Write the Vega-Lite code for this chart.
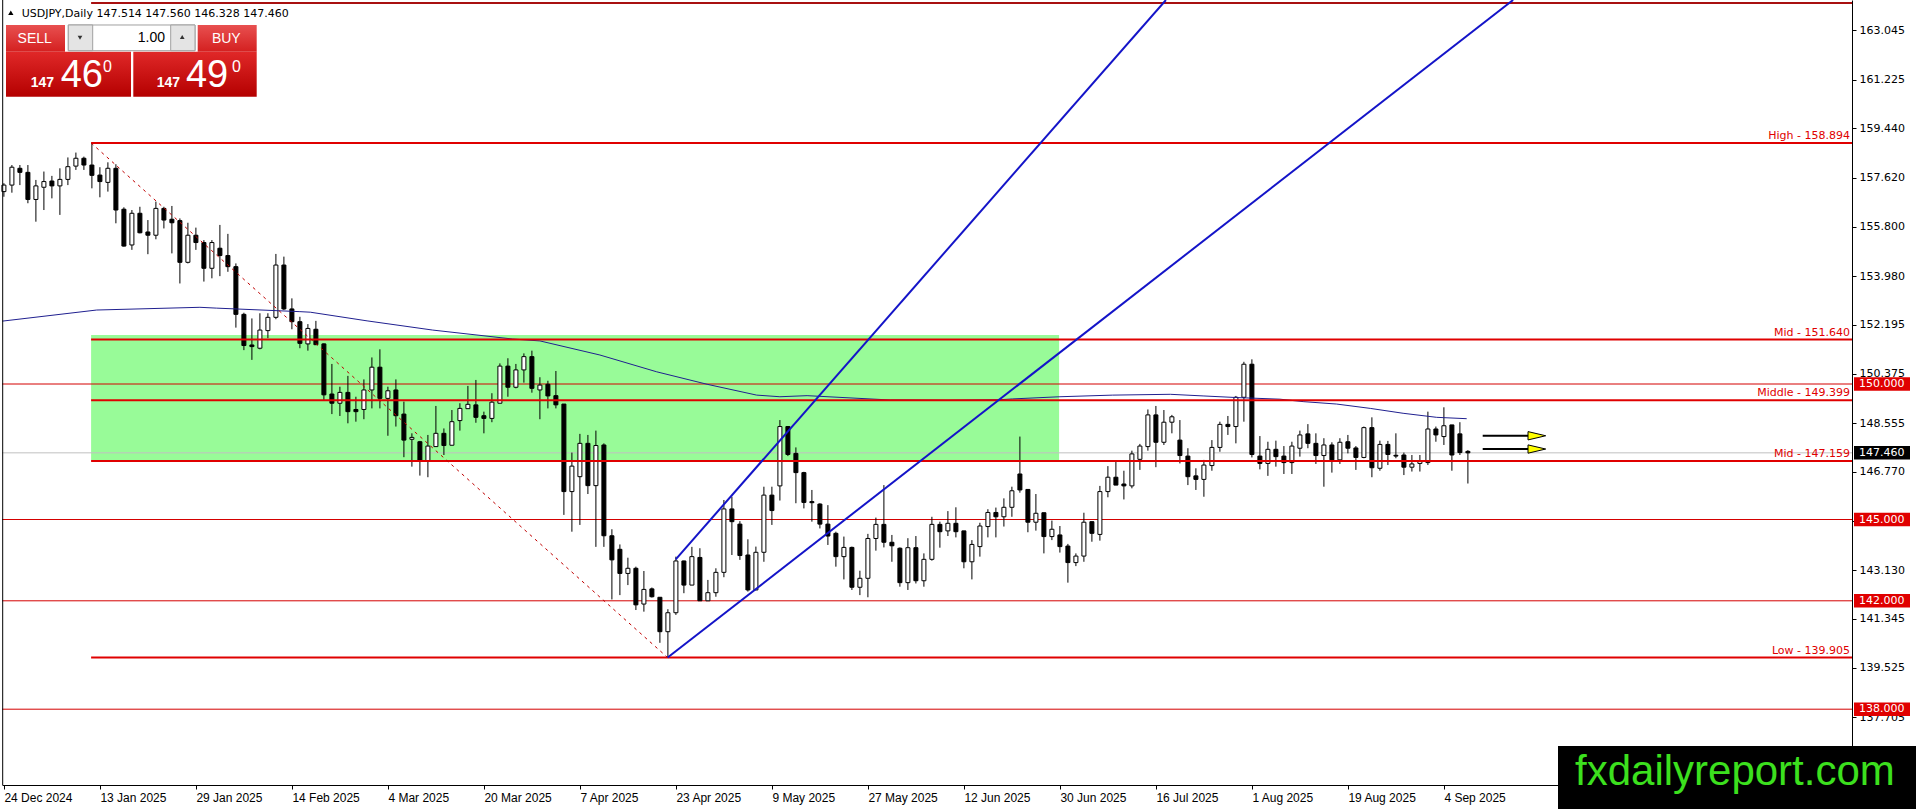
{
  "$schema": "https://vega.github.io/schema/vega-lite/v6.json",
  "width": 1850,
  "height": 785,
  "autosize": {"type": "none"},
  "padding": {"left": 2, "top": 0, "right": 64, "bottom": 24},
  "background": "white",
  "config": {"view": {"stroke": null}, "axis": {"grid": false}, "scale": {"continuousPadding": 0}},
  "resolve": {"axis": {"x": "independent", "y": "independent"}},
  "datasets": {
    "candles": [
      {"i":0,"o":157.10,"h":157.41,"l":156.91,"c":157.34},
      {"i":1,"o":157.34,"h":158.08,"l":157.06,"c":158.00},
      {"i":2,"o":157.96,"h":158.08,"l":157.34,"c":157.81},
      {"i":3,"o":157.81,"h":158.08,"l":156.67,"c":156.81},
      {"i":4,"o":156.81,"h":157.53,"l":155.99,"c":157.31},
      {"i":5,"o":157.26,"h":157.84,"l":156.42,"c":157.47},
      {"i":6,"o":157.49,"h":157.68,"l":156.85,"c":157.31},
      {"i":7,"o":157.31,"h":157.96,"l":156.24,"c":157.55},
      {"i":8,"o":157.55,"h":158.36,"l":157.34,"c":158.02},
      {"i":9,"o":158.04,"h":158.54,"l":157.90,"c":158.33},
      {"i":10,"o":158.33,"h":158.39,"l":157.90,"c":158.08},
      {"i":11,"o":158.08,"h":158.89,"l":157.22,"c":157.70},
      {"i":12,"o":157.71,"h":158.00,"l":156.89,"c":157.47},
      {"i":13,"o":157.44,"h":158.18,"l":157.10,"c":157.96},
      {"i":14,"o":157.96,"h":158.11,"l":155.93,"c":156.42},
      {"i":15,"o":156.45,"h":156.52,"l":155.07,"c":155.09},
      {"i":16,"o":155.13,"h":156.42,"l":154.95,"c":156.30},
      {"i":17,"o":156.30,"h":156.54,"l":155.56,"c":155.58},
      {"i":18,"o":155.61,"h":156.05,"l":154.79,"c":155.49},
      {"i":19,"o":155.49,"h":156.73,"l":155.34,"c":156.48},
      {"i":20,"o":156.48,"h":156.54,"l":155.74,"c":156.05},
      {"i":21,"o":156.08,"h":156.57,"l":154.82,"c":155.95},
      {"i":22,"o":156.03,"h":156.11,"l":153.71,"c":154.49},
      {"i":23,"o":154.49,"h":155.95,"l":154.45,"c":155.49},
      {"i":24,"o":155.49,"h":155.77,"l":154.95,"c":155.22},
      {"i":25,"o":155.22,"h":155.31,"l":153.78,"c":154.27},
      {"i":26,"o":154.27,"h":155.31,"l":153.90,"c":155.22},
      {"i":27,"o":155.01,"h":155.87,"l":153.98,"c":154.74},
      {"i":28,"o":154.74,"h":155.54,"l":154.14,"c":154.33},
      {"i":29,"o":154.33,"h":154.45,"l":152.08,"c":152.57},
      {"i":30,"o":152.57,"h":152.63,"l":151.25,"c":151.42},
      {"i":31,"o":151.44,"h":152.42,"l":150.89,"c":151.38},
      {"i":32,"o":151.32,"h":152.61,"l":151.28,"c":151.99},
      {"i":33,"o":151.97,"h":152.61,"l":151.69,"c":152.46},
      {"i":34,"o":152.46,"h":154.80,"l":152.39,"c":154.39},
      {"i":35,"o":154.39,"h":154.70,"l":152.73,"c":152.77},
      {"i":36,"o":152.77,"h":153.16,"l":152.02,"c":152.30},
      {"i":37,"o":152.30,"h":152.48,"l":151.32,"c":151.50},
      {"i":38,"o":151.48,"h":152.21,"l":151.23,"c":152.05},
      {"i":39,"o":152.02,"h":152.33,"l":151.44,"c":151.45},
      {"i":40,"o":151.48,"h":151.50,"l":149.41,"c":149.60},
      {"i":41,"o":149.63,"h":150.74,"l":148.89,"c":149.29},
      {"i":42,"o":149.29,"h":149.90,"l":148.82,"c":149.69},
      {"i":43,"o":149.69,"h":150.30,"l":148.55,"c":148.98},
      {"i":44,"o":149.06,"h":149.53,"l":148.61,"c":148.98},
      {"i":45,"o":149.06,"h":150.17,"l":148.70,"c":149.78},
      {"i":46,"o":149.78,"h":150.98,"l":149.10,"c":150.62},
      {"i":47,"o":150.62,"h":151.28,"l":149.10,"c":149.47},
      {"i":48,"o":149.47,"h":149.90,"l":148.09,"c":149.75},
      {"i":49,"o":149.78,"h":150.17,"l":148.43,"c":148.83},
      {"i":50,"o":148.89,"h":149.35,"l":147.30,"c":147.93},
      {"i":51,"o":147.96,"h":148.18,"l":146.95,"c":148.03},
      {"i":52,"o":147.87,"h":147.90,"l":146.62,"c":147.17},
      {"i":53,"o":147.17,"h":148.12,"l":146.56,"c":147.71},
      {"i":54,"o":147.69,"h":149.19,"l":147.69,"c":148.18},
      {"i":55,"o":148.18,"h":148.36,"l":147.38,"c":147.73},
      {"i":56,"o":147.74,"h":149.04,"l":147.74,"c":148.61},
      {"i":57,"o":148.65,"h":149.29,"l":148.28,"c":149.10},
      {"i":58,"o":149.09,"h":149.93,"l":149.09,"c":149.25},
      {"i":59,"o":149.23,"h":150.15,"l":148.57,"c":148.77},
      {"i":60,"o":148.83,"h":148.98,"l":148.18,"c":148.73},
      {"i":61,"o":148.73,"h":149.66,"l":148.59,"c":149.33},
      {"i":62,"o":149.29,"h":150.76,"l":149.29,"c":150.66},
      {"i":63,"o":150.66,"h":150.95,"l":149.53,"c":149.88},
      {"i":64,"o":149.88,"h":150.74,"l":149.84,"c":150.52},
      {"i":65,"o":150.52,"h":151.13,"l":150.05,"c":151.01},
      {"i":66,"o":151.01,"h":151.23,"l":149.68,"c":149.84},
      {"i":67,"o":149.78,"h":150.25,"l":148.70,"c":149.96},
      {"i":68,"o":149.99,"h":150.12,"l":149.10,"c":149.56},
      {"i":69,"o":149.57,"h":150.48,"l":149.10,"c":149.23},
      {"i":70,"o":149.26,"h":149.26,"l":145.17,"c":146.03},
      {"i":71,"o":146.03,"h":147.47,"l":144.55,"c":146.97},
      {"i":72,"o":146.58,"h":148.16,"l":144.80,"c":147.81},
      {"i":73,"o":147.81,"h":148.12,"l":145.94,"c":146.25},
      {"i":74,"o":146.25,"h":148.28,"l":143.99,"c":147.73},
      {"i":75,"o":147.75,"h":147.81,"l":143.99,"c":144.40},
      {"i":76,"o":144.40,"h":144.64,"l":142.05,"c":143.51},
      {"i":77,"o":143.90,"h":144.08,"l":142.21,"c":143.01},
      {"i":78,"o":143.01,"h":143.59,"l":142.58,"c":143.20},
      {"i":79,"o":143.20,"h":143.26,"l":141.66,"c":141.85},
      {"i":80,"o":141.88,"h":143.10,"l":141.60,"c":142.42},
      {"i":81,"o":142.44,"h":142.49,"l":142.12,"c":142.15},
      {"i":82,"o":142.13,"h":142.13,"l":140.45,"c":140.86},
      {"i":83,"o":140.86,"h":141.69,"l":139.90,"c":141.56},
      {"i":84,"o":141.56,"h":143.63,"l":141.48,"c":143.47},
      {"i":85,"o":143.47,"h":143.48,"l":142.28,"c":142.58},
      {"i":86,"o":142.58,"h":143.99,"l":142.58,"c":143.63},
      {"i":87,"o":143.60,"h":143.94,"l":142.00,"c":142.00},
      {"i":88,"o":142.00,"h":142.77,"l":142.00,"c":142.30},
      {"i":89,"o":142.30,"h":143.20,"l":142.15,"c":143.05},
      {"i":90,"o":143.05,"h":145.72,"l":142.87,"c":145.39},
      {"i":91,"o":145.39,"h":145.84,"l":143.69,"c":144.92},
      {"i":92,"o":144.83,"h":144.94,"l":143.51,"c":143.67},
      {"i":93,"o":143.69,"h":144.27,"l":142.34,"c":142.40},
      {"i":94,"o":142.40,"h":144.00,"l":142.40,"c":143.79},
      {"i":95,"o":143.79,"h":146.21,"l":143.44,"c":145.90},
      {"i":96,"o":145.90,"h":146.21,"l":144.80,"c":145.33},
      {"i":97,"o":146.24,"h":148.67,"l":145.70,"c":148.43},
      {"i":98,"o":148.43,"h":148.45,"l":147.34,"c":147.40},
      {"i":99,"o":147.44,"h":147.66,"l":145.60,"c":146.73},
      {"i":100,"o":146.73,"h":146.76,"l":145.41,"c":145.63},
      {"i":101,"o":145.66,"h":146.09,"l":144.92,"c":145.62},
      {"i":102,"o":145.57,"h":145.60,"l":144.67,"c":144.83},
      {"i":103,"o":144.83,"h":145.53,"l":144.06,"c":144.39},
      {"i":104,"o":144.49,"h":144.55,"l":143.26,"c":143.63},
      {"i":105,"o":143.63,"h":144.37,"l":142.79,"c":143.97},
      {"i":106,"o":143.97,"h":144.00,"l":142.40,"c":142.50},
      {"i":107,"o":142.50,"h":143.11,"l":142.21,"c":142.83},
      {"i":108,"o":142.83,"h":144.47,"l":142.13,"c":144.30},
      {"i":109,"o":144.30,"h":145.07,"l":143.85,"c":144.82},
      {"i":110,"o":144.82,"h":146.27,"l":143.97,"c":144.16},
      {"i":111,"o":144.16,"h":144.43,"l":143.44,"c":144.03},
      {"i":112,"o":143.94,"h":143.97,"l":142.52,"c":142.67},
      {"i":113,"o":142.67,"h":144.31,"l":142.40,"c":143.96},
      {"i":114,"o":143.96,"h":144.39,"l":142.64,"c":142.74},
      {"i":115,"o":142.74,"h":143.75,"l":142.52,"c":143.53},
      {"i":116,"o":143.53,"h":145.10,"l":143.48,"c":144.82},
      {"i":117,"o":144.82,"h":144.92,"l":143.96,"c":144.55},
      {"i":118,"o":144.58,"h":145.31,"l":144.39,"c":144.86},
      {"i":119,"o":144.86,"h":145.45,"l":144.34,"c":144.55},
      {"i":120,"o":144.58,"h":144.58,"l":143.20,"c":143.44},
      {"i":121,"o":143.44,"h":144.24,"l":142.79,"c":144.08},
      {"i":122,"o":144.00,"h":144.88,"l":143.63,"c":144.76},
      {"i":123,"o":144.74,"h":145.38,"l":144.34,"c":145.26},
      {"i":124,"o":145.26,"h":145.44,"l":144.34,"c":145.10},
      {"i":125,"o":145.10,"h":145.78,"l":144.74,"c":145.45},
      {"i":126,"o":145.45,"h":146.21,"l":145.10,"c":146.06},
      {"i":127,"o":146.68,"h":148.06,"l":145.99,"c":146.09},
      {"i":128,"o":146.11,"h":146.11,"l":144.53,"c":144.90},
      {"i":129,"o":144.90,"h":145.94,"l":144.59,"c":145.23},
      {"i":130,"o":145.25,"h":145.25,"l":143.75,"c":144.37},
      {"i":131,"o":144.37,"h":144.96,"l":144.24,"c":144.64},
      {"i":132,"o":144.43,"h":144.76,"l":143.78,"c":144.00},
      {"i":133,"o":144.02,"h":144.10,"l":142.67,"c":143.41},
      {"i":134,"o":143.41,"h":143.75,"l":143.28,"c":143.65},
      {"i":135,"o":143.65,"h":145.25,"l":143.44,"c":144.90},
      {"i":136,"o":144.92,"h":144.92,"l":144.18,"c":144.49},
      {"i":137,"o":144.45,"h":146.24,"l":144.22,"c":146.03},
      {"i":138,"o":146.03,"h":146.97,"l":145.82,"c":146.56},
      {"i":139,"o":146.56,"h":147.13,"l":146.27,"c":146.27},
      {"i":140,"o":146.31,"h":146.80,"l":145.74,"c":146.24},
      {"i":141,"o":146.24,"h":147.54,"l":146.15,"c":147.42},
      {"i":142,"o":147.22,"h":147.79,"l":146.83,"c":147.71},
      {"i":143,"o":147.69,"h":149.06,"l":147.54,"c":148.86},
      {"i":144,"o":148.86,"h":149.19,"l":146.93,"c":147.85},
      {"i":145,"o":147.85,"h":149.04,"l":147.75,"c":148.59},
      {"i":146,"o":148.59,"h":148.86,"l":148.18,"c":148.79},
      {"i":147,"o":147.93,"h":148.67,"l":147.07,"c":147.36},
      {"i":148,"o":147.34,"h":147.63,"l":146.27,"c":146.58},
      {"i":149,"o":146.61,"h":146.89,"l":146.09,"c":146.48},
      {"i":150,"o":146.48,"h":147.20,"l":145.84,"c":147.01},
      {"i":151,"o":146.99,"h":147.93,"l":146.80,"c":147.66},
      {"i":152,"o":147.66,"h":148.61,"l":147.50,"c":148.51},
      {"i":153,"o":148.51,"h":148.82,"l":148.12,"c":148.43},
      {"i":154,"o":148.43,"h":149.56,"l":147.81,"c":149.51},
      {"i":155,"o":149.51,"h":150.82,"l":148.61,"c":150.73},
      {"i":156,"o":150.73,"h":150.91,"l":147.29,"c":147.40},
      {"i":157,"o":147.34,"h":148.08,"l":146.85,"c":147.07},
      {"i":158,"o":147.07,"h":147.87,"l":146.61,"c":147.59},
      {"i":159,"o":147.59,"h":147.91,"l":146.95,"c":147.32},
      {"i":160,"o":147.34,"h":147.71,"l":146.68,"c":147.10},
      {"i":161,"o":147.10,"h":147.87,"l":146.68,"c":147.71},
      {"i":162,"o":147.63,"h":148.28,"l":147.32,"c":148.12},
      {"i":163,"o":148.16,"h":148.52,"l":147.63,"c":147.81},
      {"i":164,"o":147.81,"h":148.18,"l":147.05,"c":147.36},
      {"i":165,"o":147.36,"h":148.00,"l":146.21,"c":147.75},
      {"i":166,"o":147.75,"h":147.85,"l":146.73,"c":147.20},
      {"i":167,"o":147.20,"h":148.00,"l":147.05,"c":147.85},
      {"i":168,"o":147.87,"h":148.12,"l":147.44,"c":147.63},
      {"i":169,"o":147.64,"h":147.71,"l":146.83,"c":147.29},
      {"i":170,"o":147.29,"h":148.43,"l":147.26,"c":148.39},
      {"i":171,"o":148.39,"h":148.77,"l":146.56,"c":146.91},
      {"i":172,"o":146.89,"h":147.91,"l":146.80,"c":147.77},
      {"i":173,"o":147.77,"h":147.90,"l":147.01,"c":147.40},
      {"i":174,"o":147.37,"h":148.18,"l":147.26,"c":147.34},
      {"i":175,"o":147.38,"h":147.47,"l":146.64,"c":146.93},
      {"i":176,"o":146.93,"h":147.38,"l":146.77,"c":147.05},
      {"i":177,"o":147.07,"h":147.38,"l":146.77,"c":147.16},
      {"i":178,"o":147.10,"h":148.98,"l":147.01,"c":148.34},
      {"i":179,"o":148.34,"h":148.43,"l":147.87,"c":148.12},
      {"i":180,"o":148.06,"h":149.14,"l":147.75,"c":148.46},
      {"i":181,"o":148.49,"h":148.49,"l":146.80,"c":147.38},
      {"i":182,"o":148.16,"h":148.59,"l":147.38,"c":147.47},
      {"i":183,"o":147.514,"h":147.56,"l":146.328,"c":147.46}
    ],
    "ma": [
      {"i":-0.2,"v":152.32},{"i":11.6,"v":152.73},{"i":24.5,"v":152.83},{"i":26.6,"v":152.80},
      {"i":37,"v":152.67},{"i":38.3,"v":152.65},{"i":45.4,"v":152.33},{"i":53.6,"v":151.99},
      {"i":63.6,"v":151.66},{"i":67,"v":151.59},{"i":74.5,"v":151.07},{"i":81.6,"v":150.45},
      {"i":87.9,"v":149.99},{"i":94.1,"v":149.59},{"i":97,"v":149.53},{"i":100.4,"v":149.57},
      {"i":110.8,"v":149.41},{"i":112.4,"v":149.41},{"i":118,"v":149.40},{"i":124.5,"v":149.42},
      {"i":126.1,"v":149.45},{"i":132,"v":149.53},{"i":138.6,"v":149.59},{"i":145.8,"v":149.62},
      {"i":149.9,"v":149.56},{"i":154.1,"v":149.50},{"i":159.5,"v":149.44},{"i":162.4,"v":149.35},
      {"i":166.6,"v":149.26},{"i":170.8,"v":149.10},{"i":174.9,"v":148.92},{"i":179.1,"v":148.77},
      {"i":182.85,"v":148.72}
    ],
    "zones": [{"from":10.9,"to":131.9,"lo":147.159,"hi":151.81}],
    "current": [{"p":147.46}],
    "thin": [{"p":150.0},{"p":145.0},{"p":142.0},{"p":138.0}],
    "levels": [
      {"p":164.06,"from":10.9,"label":""},
      {"p":158.894,"from":10.9,"label":"High - 158.894"},
      {"p":151.64,"from":10.9,"label":"Mid - 151.640"},
      {"p":149.399,"from":10.9,"label":"Middle - 149.399"},
      {"p":147.159,"from":10.9,"label":"Mid - 147.159"},
      {"p":139.905,"from":10.9,"label":"Low - 139.905"}
    ],
    "diag": [{"i":10.9,"p":158.894},{"i":82.97,"p":139.905}],
    "trend": [
      {"line":"t1","i":83.98,"p":143.53},{"line":"t1","i":145.25,"p":164.17},
      {"line":"t2","i":82.97,"p":139.905},{"line":"t2","i":188.65,"p":164.17}
    ],
    "arrows": [
      {"a":"a1","from":184.85,"to":190.55,"tip":191.62,"p":148.09},
      {"a":"a2","from":184.85,"to":190.55,"tip":191.62,"p":147.60}
    ],
    "pricebox": [
      {"p":150.0,"label":"150.000","kind":"level"},
      {"p":147.46,"label":"147.460","kind":"bid"},
      {"p":145.0,"label":"145.000","kind":"level"},
      {"p":142.0,"label":"142.000","kind":"level"},
      {"p":138.0,"label":"138.000","kind":"level"}
    ]
  },
  "layer": [
    {
      "data": {"name": "zones"},
      "mark": {"type": "rect", "fill": "#98fb98"},
      "encoding": {
        "x": {"field": "from", "type": "quantitative", "scale": {"domain": [-0.2375, 231.0125], "nice": false, "zero": false, "padding": 0}, "axis": null},
        "x2": {"field": "to"},
        "y": {"field": "lo", "type": "quantitative", "scale": {"domain": [135.203, 164.17], "nice": false, "zero": false}, "axis": null},
        "y2": {"field": "hi"}
      }
    },
    {
      "data": {"name": "current"},
      "mark": {"type": "rule", "color": "#c0c0c0", "strokeWidth": 1},
      "encoding": {
        "y": {"field": "p", "type": "quantitative", "scale": {"domain": [135.203, 164.17], "nice": false, "zero": false}, "axis": null}
      }
    },
    {
      "data": {"name": "thin"},
      "mark": {"type": "rule", "color": "#d40000", "strokeWidth": 1},
      "encoding": {
        "y": {"field": "p", "type": "quantitative", "scale": {"domain": [135.203, 164.17], "nice": false, "zero": false}, "axis": null}
      }
    },
    {
      "data": {"name": "candles"},
      "mark": {"type": "rule", "color": "black", "strokeWidth": 1},
      "encoding": {
        "x": {"field": "i", "type": "quantitative", "scale": {"domain": [-0.2375, 231.0125], "nice": false, "zero": false, "padding": 0},
          "axis": {"orient": "bottom", "title": null, "values": [0,12,24,36,48,60,72,84,96,108,120,132,144,156,168,180],
            "labelExpr": "['24 Dec 2024','13 Jan 2025','29 Jan 2025','14 Feb 2025','4 Mar 2025','20 Mar 2025','7 Apr 2025','23 Apr 2025','9 May 2025','27 May 2025','12 Jun 2025','30 Jun 2025','16 Jul 2025','1 Aug 2025','19 Aug 2025','4 Sep 2025'][round(datum.value/12)]",
            "labelFont": "Liberation Sans", "labelFontSize": 12, "labelColor": "black", "labelAlign": "left", "labelBaseline": "top",
            "labelPadding": 3, "tickSize": 4, "tickColor": "black", "domainColor": "black", "labelOverlap": false, "labelFlush": false, "labelBound": false, "grid": false}},
        "y": {"field": "l", "type": "quantitative", "scale": {"domain": [135.203, 164.17], "nice": false, "zero": false},
          "axis": {"orient": "right", "title": null, "values": [137.705,139.525,141.345,143.13,144.95,146.77,148.555,150.375,152.195,153.98,155.8,157.62,159.44,161.225,163.045],
            "format": ".3f", "labelFont": "DejaVu Sans", "labelFontSize": 11, "labelColor": "black", "labelPadding": 3, "tickSize": 4,
            "tickColor": "black", "domainColor": "black", "labelOverlap": false, "labelFlush": false, "labelBound": false, "grid": false}},
        "y2": {"field": "h"}
      }
    },
    {
      "data": {"name": "candles"},
      "mark": {"type": "bar", "width": 4, "stroke": "black", "strokeWidth": 1},
      "encoding": {
        "x": {"field": "i", "type": "quantitative", "scale": {"domain": [-0.2375, 231.0125], "nice": false, "zero": false, "padding": 0}, "axis": null},
        "y": {"field": "o", "type": "quantitative", "scale": {"domain": [135.203, 164.17], "nice": false, "zero": false}, "axis": null},
        "y2": {"field": "c"},
        "fill": {"condition": {"test": "datum.c >= datum.o", "value": "white"}, "value": "black"}
      }
    },
    {
      "data": {"name": "ma"},
      "mark": {"type": "line", "color": "#202090", "strokeWidth": 1},
      "encoding": {
        "x": {"field": "i", "type": "quantitative", "scale": {"domain": [-0.2375, 231.0125], "nice": false, "zero": false, "padding": 0}, "axis": null},
        "y": {"field": "v", "type": "quantitative", "scale": {"domain": [135.203, 164.17], "nice": false, "zero": false}, "axis": null}
      }
    },
    {
      "data": {"name": "levels"},
      "mark": {"type": "rule", "strokeWidth": 2},
      "encoding": {
        "x": {"field": "from", "type": "quantitative", "scale": {"domain": [-0.2375, 231.0125], "nice": false, "zero": false, "padding": 0}, "axis": null},
        "x2": {"datum": 231.0125},
        "y": {"field": "p", "type": "quantitative", "scale": {"domain": [135.203, 164.17], "nice": false, "zero": false}, "axis": null},
        "color": {"condition": {"test": "datum.label == ''", "value": "#a81010"}, "value": "#e00000"}
      }
    },
    {
      "data": {"name": "diag"},
      "mark": {"type": "line", "color": "#c00000", "strokeWidth": 1, "strokeDash": [3, 4]},
      "encoding": {
        "x": {"field": "i", "type": "quantitative", "scale": {"domain": [-0.2375, 231.0125], "nice": false, "zero": false, "padding": 0}, "axis": null},
        "y": {"field": "p", "type": "quantitative", "scale": {"domain": [135.203, 164.17], "nice": false, "zero": false}, "axis": null}
      }
    },
    {
      "data": {"name": "trend"},
      "mark": {"type": "line", "color": "#1414c8", "strokeWidth": 2},
      "encoding": {
        "x": {"field": "i", "type": "quantitative", "scale": {"domain": [-0.2375, 231.0125], "nice": false, "zero": false, "padding": 0}, "axis": null},
        "y": {"field": "p", "type": "quantitative", "scale": {"domain": [135.203, 164.17], "nice": false, "zero": false}, "axis": null},
        "detail": {"field": "line"}
      }
    },
    {
      "data": {"name": "levels"},
      "transform": [{"filter": "datum.label != ''"}],
      "mark": {"type": "text", "align": "right", "baseline": "bottom", "dx": -2, "dy": -2, "font": "DejaVu Sans", "fontSize": 11, "color": "#e00000"},
      "encoding": {
        "x": {"datum": 231.0125, "type": "quantitative", "scale": {"domain": [-0.2375, 231.0125], "nice": false, "zero": false, "padding": 0}, "axis": null},
        "y": {"field": "p", "type": "quantitative", "scale": {"domain": [135.203, 164.17], "nice": false, "zero": false}, "axis": null},
        "text": {"field": "label"}
      }
    },
    {
      "data": {"name": "arrows"},
      "mark": {"type": "rule", "color": "black", "strokeWidth": 2},
      "encoding": {
        "x": {"field": "from", "type": "quantitative", "scale": {"domain": [-0.2375, 231.0125], "nice": false, "zero": false, "padding": 0}, "axis": null},
        "x2": {"field": "to"},
        "y": {"field": "p", "type": "quantitative", "scale": {"domain": [135.203, 164.17], "nice": false, "zero": false}, "axis": null}
      }
    },
    {
      "data": {"name": "arrows"},
      "mark": {"type": "point", "shape": "M-1,-0.47L1,0L-1,0.47Z", "size": 313, "filled": true, "fill": "#ffff00", "stroke": "black", "strokeWidth": 1, "opacity": 1},
      "encoding": {
        "x": {"field": "tip", "type": "quantitative", "scale": {"domain": [-0.2375, 231.0125], "nice": false, "zero": false, "padding": 0}, "axis": null},
        "y": {"field": "p", "type": "quantitative", "scale": {"domain": [135.203, 164.17], "nice": false, "zero": false}, "axis": null}
      }
    },
    {
      "data": {"name": "pricebox"},
      "mark": {"type": "point", "shape": "M-1,-0.24L1,-0.24L1,0.24L-1,0.24Z", "size": 3136, "filled": true, "strokeWidth": 0, "opacity": 1},
      "encoding": {
        "x": {"datum": 234.7625, "type": "quantitative", "scale": {"domain": [-0.2375, 231.0125], "nice": false, "zero": false, "padding": 0}, "axis": null},
        "y": {"field": "p", "type": "quantitative", "scale": {"domain": [135.203, 164.17], "nice": false, "zero": false}, "axis": null},
        "fill": {"condition": {"test": "datum.kind == 'bid'", "value": "black"}, "value": "#e00000"}
      }
    },
    {
      "data": {"name": "pricebox"},
      "mark": {"type": "text", "align": "left", "baseline": "middle", "font": "DejaVu Sans", "fontSize": 11, "color": "white"},
      "encoding": {
        "x": {"datum": 231.8875, "type": "quantitative", "scale": {"domain": [-0.2375, 231.0125], "nice": false, "zero": false, "padding": 0}, "axis": null},
        "y": {"field": "p", "type": "quantitative", "scale": {"domain": [135.203, 164.17], "nice": false, "zero": false}, "axis": null},
        "text": {"field": "label"}
      }
    },
    {
      "data": {"values": [{}]},
      "mark": {"type": "rule", "color": "black", "strokeWidth": 1},
      "encoding": {
        "x": {"datum": -0.15, "type": "quantitative", "scale": {"domain": [-0.2375, 231.0125], "nice": false, "zero": false, "padding": 0}, "axis": null}
      }
    },
    {
      "data": {"values": [{}]},
      "mark": {"type": "rect", "fill": {"gradient": "linear", "x1": 0, "y1": 0, "x2": 0, "y2": 1, "stops": [{"offset": 0, "color": "#e85050"}, {"offset": 1, "color": "#d42020"}]}},
      "encoding": {
        "x": {"datum": 0.2625, "type": "quantitative", "scale": {"domain": [-0.2375, 231.0125], "nice": false, "zero": false, "padding": 0}, "axis": null},
        "x2": {"datum": 7.6375},
        "y": {"datum": 163.2475, "type": "quantitative", "scale": {"domain": [135.203, 164.17], "nice": false, "zero": false}, "axis": null},
        "y2": {"datum": 162.2623}
      }
    },
    {
      "data": {"values": [{}]},
      "mark": {"type": "rect", "fill": {"gradient": "linear", "x1": 0, "y1": 0, "x2": 0, "y2": 1, "stops": [{"offset": 0, "color": "#e85050"}, {"offset": 1, "color": "#d42020"}]}},
      "encoding": {
        "x": {"datum": 24.225, "type": "quantitative", "scale": {"domain": [-0.2375, 231.0125], "nice": false, "zero": false, "padding": 0}, "axis": null},
        "x2": {"datum": 31.6},
        "y": {"datum": 163.2475, "type": "quantitative", "scale": {"domain": [135.203, 164.17], "nice": false, "zero": false}, "axis": null},
        "y2": {"datum": 162.2623}
      }
    },
    {
      "data": {"values": [{}]},
      "mark": {"type": "rect", "fill": {"gradient": "linear", "x1": 0, "y1": 0, "x2": 0, "y2": 1, "stops": [{"offset": 0, "color": "#e02828"}, {"offset": 1, "color": "#b40000"}]}},
      "encoding": {
        "x": {"datum": 0.2625, "type": "quantitative", "scale": {"domain": [-0.2375, 231.0125], "nice": false, "zero": false, "padding": 0}, "axis": null},
        "x2": {"datum": 15.8875},
        "y": {"datum": 162.2623, "type": "quantitative", "scale": {"domain": [135.203, 164.17], "nice": false, "zero": false}, "axis": null},
        "y2": {"datum": 160.6017}
      }
    },
    {
      "data": {"values": [{}]},
      "mark": {"type": "rect", "fill": {"gradient": "linear", "x1": 0, "y1": 0, "x2": 0, "y2": 1, "stops": [{"offset": 0, "color": "#e02828"}, {"offset": 1, "color": "#b40000"}]}},
      "encoding": {
        "x": {"datum": 16.175, "type": "quantitative", "scale": {"domain": [-0.2375, 231.0125], "nice": false, "zero": false, "padding": 0}, "axis": null},
        "x2": {"datum": 31.6},
        "y": {"datum": 162.2623, "type": "quantitative", "scale": {"domain": [135.203, 164.17], "nice": false, "zero": false}, "axis": null},
        "y2": {"datum": 160.6017}
      }
    },
    {
      "data": {"values": [{}]},
      "mark": {"type": "rect", "fill": "white", "stroke": "#a0a0a0", "strokeWidth": 1},
      "encoding": {
        "x": {"datum": 8.05, "type": "quantitative", "scale": {"domain": [-0.2375, 231.0125], "nice": false, "zero": false, "padding": 0}, "axis": null},
        "x2": {"datum": 23.8875},
        "y": {"datum": 163.2475, "type": "quantitative", "scale": {"domain": [135.203, 164.17], "nice": false, "zero": false}, "axis": null},
        "y2": {"datum": 162.2993}
      }
    },
    {
      "data": {"values": [{}]},
      "mark": {"type": "rect", "fill": "#e4e4e4", "stroke": "#a0a0a0", "strokeWidth": 1},
      "encoding": {
        "x": {"datum": 8.05, "type": "quantitative", "scale": {"domain": [-0.2375, 231.0125], "nice": false, "zero": false, "padding": 0}, "axis": null},
        "x2": {"datum": 11.1},
        "y": {"datum": 163.2475, "type": "quantitative", "scale": {"domain": [135.203, 164.17], "nice": false, "zero": false}, "axis": null},
        "y2": {"datum": 162.2993}
      }
    },
    {
      "data": {"values": [{}]},
      "mark": {"type": "rect", "fill": "#e4e4e4", "stroke": "#a0a0a0", "strokeWidth": 1},
      "encoding": {
        "x": {"datum": 20.85, "type": "quantitative", "scale": {"domain": [-0.2375, 231.0125], "nice": false, "zero": false, "padding": 0}, "axis": null},
        "x2": {"datum": 23.8875},
        "y": {"datum": 163.2475, "type": "quantitative", "scale": {"domain": [135.203, 164.17], "nice": false, "zero": false}, "axis": null},
        "y2": {"datum": 162.2993}
      }
    },
    {
      "data": {"values": [{}]},
      "mark": {"type": "point", "shape": "triangle-down", "size": 22, "filled": true, "color": "#333333", "opacity": 1},
      "encoding": {
        "x": {"datum": 9.5125, "type": "quantitative", "scale": {"domain": [-0.2375, 231.0125], "nice": false, "zero": false, "padding": 0}, "axis": null},
        "y": {"datum": 162.779, "type": "quantitative", "scale": {"domain": [135.203, 164.17], "nice": false, "zero": false}, "axis": null}
      }
    },
    {
      "data": {"values": [{}]},
      "mark": {"type": "point", "shape": "triangle-up", "size": 22, "filled": true, "color": "#333333", "opacity": 1},
      "encoding": {
        "x": {"datum": 22.29, "type": "quantitative", "scale": {"domain": [-0.2375, 231.0125], "nice": false, "zero": false, "padding": 0}, "axis": null},
        "y": {"datum": 162.805, "type": "quantitative", "scale": {"domain": [135.203, 164.17], "nice": false, "zero": false}, "axis": null}
      }
    },
    {
      "data": {"values": [{"t": "SELL"}]},
      "mark": {"type": "text", "align": "center", "baseline": "middle", "font": "Liberation Sans", "fontSize": 14, "color": "white"},
      "encoding": {
        "x": {"datum": 3.85, "type": "quantitative", "scale": {"domain": [-0.2375, 231.0125], "nice": false, "zero": false, "padding": 0}, "axis": null},
        "y": {"datum": 162.738, "type": "quantitative", "scale": {"domain": [135.203, 164.17], "nice": false, "zero": false}, "axis": null},
        "text": {"field": "t"}
      }
    },
    {
      "data": {"values": [{"t": "BUY"}]},
      "mark": {"type": "text", "align": "center", "baseline": "middle", "font": "Liberation Sans", "fontSize": 14, "color": "white"},
      "encoding": {
        "x": {"datum": 27.8, "type": "quantitative", "scale": {"domain": [-0.2375, 231.0125], "nice": false, "zero": false, "padding": 0}, "axis": null},
        "y": {"datum": 162.738, "type": "quantitative", "scale": {"domain": [135.203, 164.17], "nice": false, "zero": false}, "axis": null},
        "text": {"field": "t"}
      }
    },
    {
      "data": {"values": [{"t": "1.00"}]},
      "mark": {"type": "text", "align": "right", "baseline": "middle", "font": "Liberation Sans", "fontSize": 14, "color": "black"},
      "encoding": {
        "x": {"datum": 20.1375, "type": "quantitative", "scale": {"domain": [-0.2375, 231.0125], "nice": false, "zero": false, "padding": 0}, "axis": null},
        "y": {"datum": 162.779, "type": "quantitative", "scale": {"domain": [135.203, 164.17], "nice": false, "zero": false}, "axis": null},
        "text": {"field": "t"}
      }
    },
    {
      "data": {"values": [{"t": "147"}]},
      "mark": {"type": "text", "align": "left", "baseline": "alphabetic", "font": "Liberation Sans", "fontSize": 14, "fontWeight": "bold", "color": "white"},
      "encoding": {
        "x": {"datum": 3.35, "type": "quantitative", "scale": {"domain": [-0.2375, 231.0125], "nice": false, "zero": false, "padding": 0}, "axis": null},
        "y": {"datum": 160.9485, "type": "quantitative", "scale": {"domain": [135.203, 164.17], "nice": false, "zero": false}, "axis": null},
        "text": {"field": "t"}
      }
    },
    {
      "data": {"values": [{"t": "147"}]},
      "mark": {"type": "text", "align": "left", "baseline": "alphabetic", "font": "Liberation Sans", "fontSize": 14, "fontWeight": "bold", "color": "white"},
      "encoding": {
        "x": {"datum": 19.1, "type": "quantitative", "scale": {"domain": [-0.2375, 231.0125], "nice": false, "zero": false, "padding": 0}, "axis": null},
        "y": {"datum": 160.9485, "type": "quantitative", "scale": {"domain": [135.203, 164.17], "nice": false, "zero": false}, "axis": null},
        "text": {"field": "t"}
      }
    },
    {
      "data": {"values": [{"t": "46"}]},
      "mark": {"type": "text", "align": "left", "baseline": "alphabetic", "font": "Liberation Sans", "fontSize": 38, "color": "white"},
      "encoding": {
        "x": {"datum": 7.1, "type": "quantitative", "scale": {"domain": [-0.2375, 231.0125], "nice": false, "zero": false, "padding": 0}, "axis": null},
        "y": {"datum": 160.9485, "type": "quantitative", "scale": {"domain": [135.203, 164.17], "nice": false, "zero": false}, "axis": null},
        "text": {"field": "t"}
      }
    },
    {
      "data": {"values": [{"t": "49"}]},
      "mark": {"type": "text", "align": "left", "baseline": "alphabetic", "font": "Liberation Sans", "fontSize": 38, "color": "white"},
      "encoding": {
        "x": {"datum": 22.76, "type": "quantitative", "scale": {"domain": [-0.2375, 231.0125], "nice": false, "zero": false, "padding": 0}, "axis": null},
        "y": {"datum": 160.9485, "type": "quantitative", "scale": {"domain": [135.203, 164.17], "nice": false, "zero": false}, "axis": null},
        "text": {"field": "t"}
      }
    },
    {
      "data": {"values": [{"t": "0"}]},
      "mark": {"type": "text", "align": "left", "baseline": "alphabetic", "font": "Liberation Sans", "fontSize": 16, "color": "white"},
      "encoding": {
        "x": {"datum": 12.4, "type": "quantitative", "scale": {"domain": [-0.2375, 231.0125], "nice": false, "zero": false, "padding": 0}, "axis": null},
        "y": {"datum": 161.524, "type": "quantitative", "scale": {"domain": [135.203, 164.17], "nice": false, "zero": false}, "axis": null},
        "text": {"field": "t"}
      }
    },
    {
      "data": {"values": [{"t": "0"}]},
      "mark": {"type": "text", "align": "left", "baseline": "alphabetic", "font": "Liberation Sans", "fontSize": 16, "color": "white"},
      "encoding": {
        "x": {"datum": 28.5, "type": "quantitative", "scale": {"domain": [-0.2375, 231.0125], "nice": false, "zero": false, "padding": 0}, "axis": null},
        "y": {"datum": 161.524, "type": "quantitative", "scale": {"domain": [135.203, 164.17], "nice": false, "zero": false}, "axis": null},
        "text": {"field": "t"}
      }
    },
    {
      "data": {"values": [{}]},
      "mark": {"type": "point", "shape": "triangle-up", "size": 28, "filled": true, "color": "black", "opacity": 1},
      "encoding": {
        "x": {"datum": 0.8625, "type": "quantitative", "scale": {"domain": [-0.2375, 231.0125], "nice": false, "zero": false, "padding": 0}, "axis": null},
        "y": {"datum": 163.698, "type": "quantitative", "scale": {"domain": [135.203, 164.17], "nice": false, "zero": false}, "axis": null}
      }
    },
    {
      "data": {"values": [{"t": "USDJPY,Daily  147.514 147.560 146.328 147.460"}]},
      "mark": {"type": "text", "align": "left", "baseline": "alphabetic", "font": "DejaVu Sans", "fontSize": 11, "color": "black"},
      "encoding": {
        "x": {"datum": 2.225, "type": "quantitative", "scale": {"domain": [-0.2375, 231.0125], "nice": false, "zero": false, "padding": 0}, "axis": null},
        "y": {"datum": 163.532, "type": "quantitative", "scale": {"domain": [135.203, 164.17], "nice": false, "zero": false}, "axis": null},
        "text": {"field": "t"}
      }
    },
    {
      "data": {"values": [{}]},
      "mark": {"type": "rect", "fill": "black"},
      "encoding": {
        "x": {"datum": 194.2625, "type": "quantitative", "scale": {"domain": [-0.2375, 231.0125], "nice": false, "zero": false, "padding": 0}, "axis": null},
        "x2": {"datum": 239.0125},
        "y": {"datum": 136.6423, "type": "quantitative", "scale": {"domain": [135.203, 164.17], "nice": false, "zero": false}, "axis": null},
        "y2": {"datum": 134.3176}
      }
    },
    {
      "data": {"values": [{"t": "fxdailyreport.com"}]},
      "mark": {"type": "text", "align": "left", "baseline": "alphabetic", "font": "Liberation Sans", "fontSize": 42, "color": "#3ce01e"},
      "encoding": {
        "x": {"datum": 196.3875, "type": "quantitative", "scale": {"domain": [-0.2375, 231.0125], "nice": false, "zero": false, "padding": 0}, "axis": null},
        "y": {"datum": 135.2033, "type": "quantitative", "scale": {"domain": [135.203, 164.17], "nice": false, "zero": false}, "axis": null},
        "text": {"field": "t"}
      }
    }
  ]
}
